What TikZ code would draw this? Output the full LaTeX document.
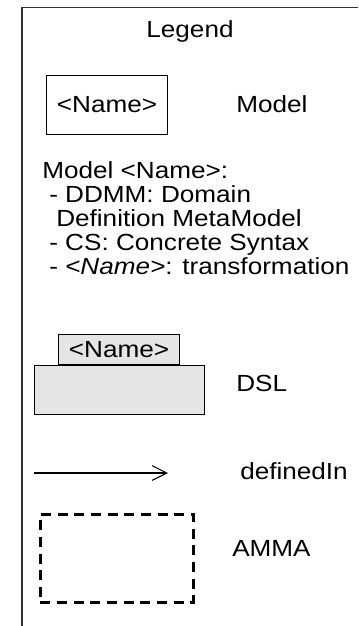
\documentclass[tikz,border=0pt]{standalone}
\usepackage{fontspec}
\setmainfont{Liberation Sans}[FakeStretch=1.12]
\usetikzlibrary{arrows.meta}

\tikzset{
  legendtext/.style={font=\fontsize{17.5pt}{18pt}\selectfont, inner sep=0pt},
  modelbox/.style={draw=black, line width=0.8pt, inner sep=0pt},
  dslpart/.style={draw=black, line width=0.8pt, fill=black!10, inner sep=0pt},
  definedarrow/.style={draw=black, line width=0.8pt, -{Straight Barb[length=11pt, width=11pt, line width=0.8pt]}},
  ammabox/.style={draw=black, line width=2pt, dash pattern=on 7.5pt off 5pt},
  framestroke/.style={draw=black!80, line width=1pt}
}

\begin{document}
\begin{tikzpicture}[x=0.75pt, y=-0.75pt]
  \useasboundingbox (0,0) rectangle (358,626);

  % open frame: left and top edges
  \coordinate (fbl) at (22,626);
  \coordinate (ftl) at (22,7.5);
  \coordinate (ftr) at (358,7.5);
  \draw[framestroke] (fbl) -- (ftl) -- (ftr);

  \node[legendtext, anchor=base] (title) at (190,37) {Legend};

  % model
  \node[modelbox, minimum width=90.75pt, minimum height=44.25pt, anchor=north west] (mbox) at (46,75) {};
  \node[legendtext] (mname) at (mbox.center) {<Name>};
  \node[legendtext, anchor=west] (mlabel) at (236,104.5) {Model};

  % model kinds (base anchor sits on the last line)
  \node[legendtext, anchor=base west, align=left] (kinds) at (42,274)
    {Model <Name>:\\
     \hspace*{0.3em}- DDMM: Domain\\
     \hspace*{0.6em}Definition MetaModel\\
     \hspace*{0.3em}- CS: Concrete Syntax\\
     \hspace*{0.3em}- \textit{<Name>}: transformation};

  % DSL
  \node[dslpart, minimum width=127.5pt, minimum height=36.75pt, anchor=north west] (dslbody) at (34,365) {};
  \node[dslpart, minimum width=90.75pt, minimum height=22.5pt, anchor=south west] (dsltab) at (58,365) {};
  \node[legendtext] (dslname) at (dsltab.center) {<Name>};
  \node[legendtext, anchor=west] (dsllabel) at (236,383) {DSL};

  % definedIn
  \coordinate (astart) at (34,473);
  \coordinate (aend) at (168,473);
  \draw[definedarrow] (astart) -- (aend);
  \node[legendtext, anchor=west] (dlabel) at (240,471) {definedIn};

  % AMMA
  \node[ammabox, minimum width=114.75pt, minimum height=66pt, anchor=north west] (amma) at (39,513) {};
  \node[legendtext, anchor=west] (alabel) at (232,548) {AMMA};
\end{tikzpicture}
\end{document}
